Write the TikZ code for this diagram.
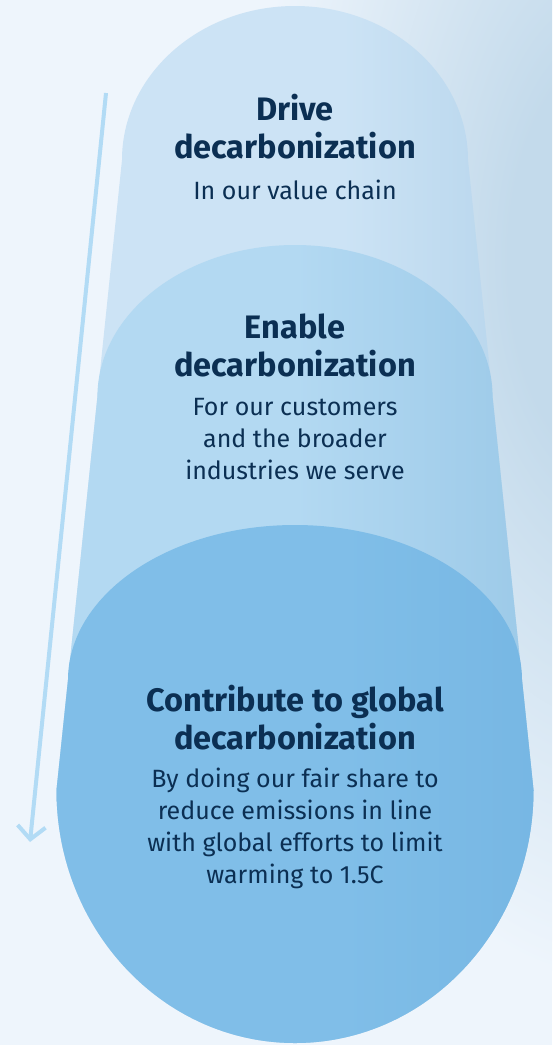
\documentclass[tikz,border=0pt]{standalone}
\usepackage{fontspec}
\setmainfont{Fira Sans}
\usetikzlibrary{arrows.meta}

\definecolor{bglight}{HTML}{EEF5FC}
\definecolor{bgdark}{HTML}{C3DAEB}
\definecolor{toplight}{HTML}{CCE3F5}
\definecolor{topdark}{HTML}{A9CCE6}
\definecolor{midlight}{HTML}{B3D9F2}
\definecolor{middark}{HTML}{8EC0E2}
\definecolor{lowlight}{HTML}{80BEE8}
\definecolor{lowdark}{HTML}{6EB0DF}
\definecolor{txt}{HTML}{0B2F53}
\definecolor{arrowc}{HTML}{B2DBF5}

\pgfdeclareradialshading{cornershade}{\pgfpoint{0bp}{0bp}}{color(0bp)=(bgdark); color(7bp)=(bgdark); color(25bp)=(bglight); color(50bp)=(bglight)}
\pgfdeclarehorizontalshading{topshade}{100bp}{color(0bp)=(toplight); color(55bp)=(toplight); color(86bp)=(topdark); color(100bp)=(topdark)}
\pgfdeclarehorizontalshading{midshade}{100bp}{color(0bp)=(midlight); color(50bp)=(midlight); color(90bp)=(middark); color(100bp)=(middark)}
\pgfdeclarehorizontalshading{lowshade}{100bp}{color(0bp)=(lowlight); color(55bp)=(lowlight); color(95bp)=(lowdark); color(100bp)=(lowdark)}

\begin{document}
\begin{tikzpicture}[x=1pt,y=1pt,
  title/.style={text=txt,font=\bfseries\fontsize{32.5}{38}\selectfont,align=center,anchor=base},
  sub/.style={text=txt,font=\fontsize{25}{32}\selectfont,align=center,anchor=base},
  flow/.style={draw=arrowc,line width=4pt,-{Straight Barb[length=13pt,width=28pt]}}]
\useasboundingbox (0,0) rectangle (552,-1045);
% background
\fill[bglight] (0,0) rectangle (552,-1045);
\begin{scope}
  \clip (0,0) rectangle (552,-1045);
  \shade[shading=cornershade] (610,-260) ellipse [x radius=360, y radius=720];
\end{scope}
% the three layers, back to front
\shade[shading=topshade] (122,-160) arc[start angle=180,end angle=0,x radius=173,y radius=154]
  -- (533.5,-790) arc[start angle=0,end angle=-180,x radius=238.5,y radius=253] -- cycle;
\shade[shading=midshade] (97.4,-397) arc[start angle=180,end angle=0,x radius=197.6,y radius=152]
  -- (533.5,-790) arc[start angle=0,end angle=-180,x radius=238.5,y radius=253] -- cycle;
\shade[shading=lowshade] (68,-680) arc[start angle=180,end angle=0,x radius=227,y radius=155]
  -- (533.5,-790) arc[start angle=0,end angle=-180,x radius=238.5,y radius=253] -- cycle;
% labels (base = last line)
\node[title] (drive) at (295,-158) {Drive\\decarbonization};
\node[sub] (drivesub) at (295,-199) {In our value chain};
\node[title] (enable) at (295,-376) {Enable\\decarbonization};
\node[sub] (enablesub) at (295,-479) {For our customers\\and the broader\\industries we serve};
\node[title] (contrib) at (295,-749) {Contribute to global\\decarbonization};
\node[sub] (contribsub) at (295,-883) {By doing our fair share to\\reduce emissions in line\\with global efforts to limit\\warming to 1.5C};
% direction arrow
\coordinate (flowtop) at (106,-93);
\coordinate (flowend) at (30,-842);
\draw[flow] (flowtop) -- (flowend);
\end{tikzpicture}
\end{document}
